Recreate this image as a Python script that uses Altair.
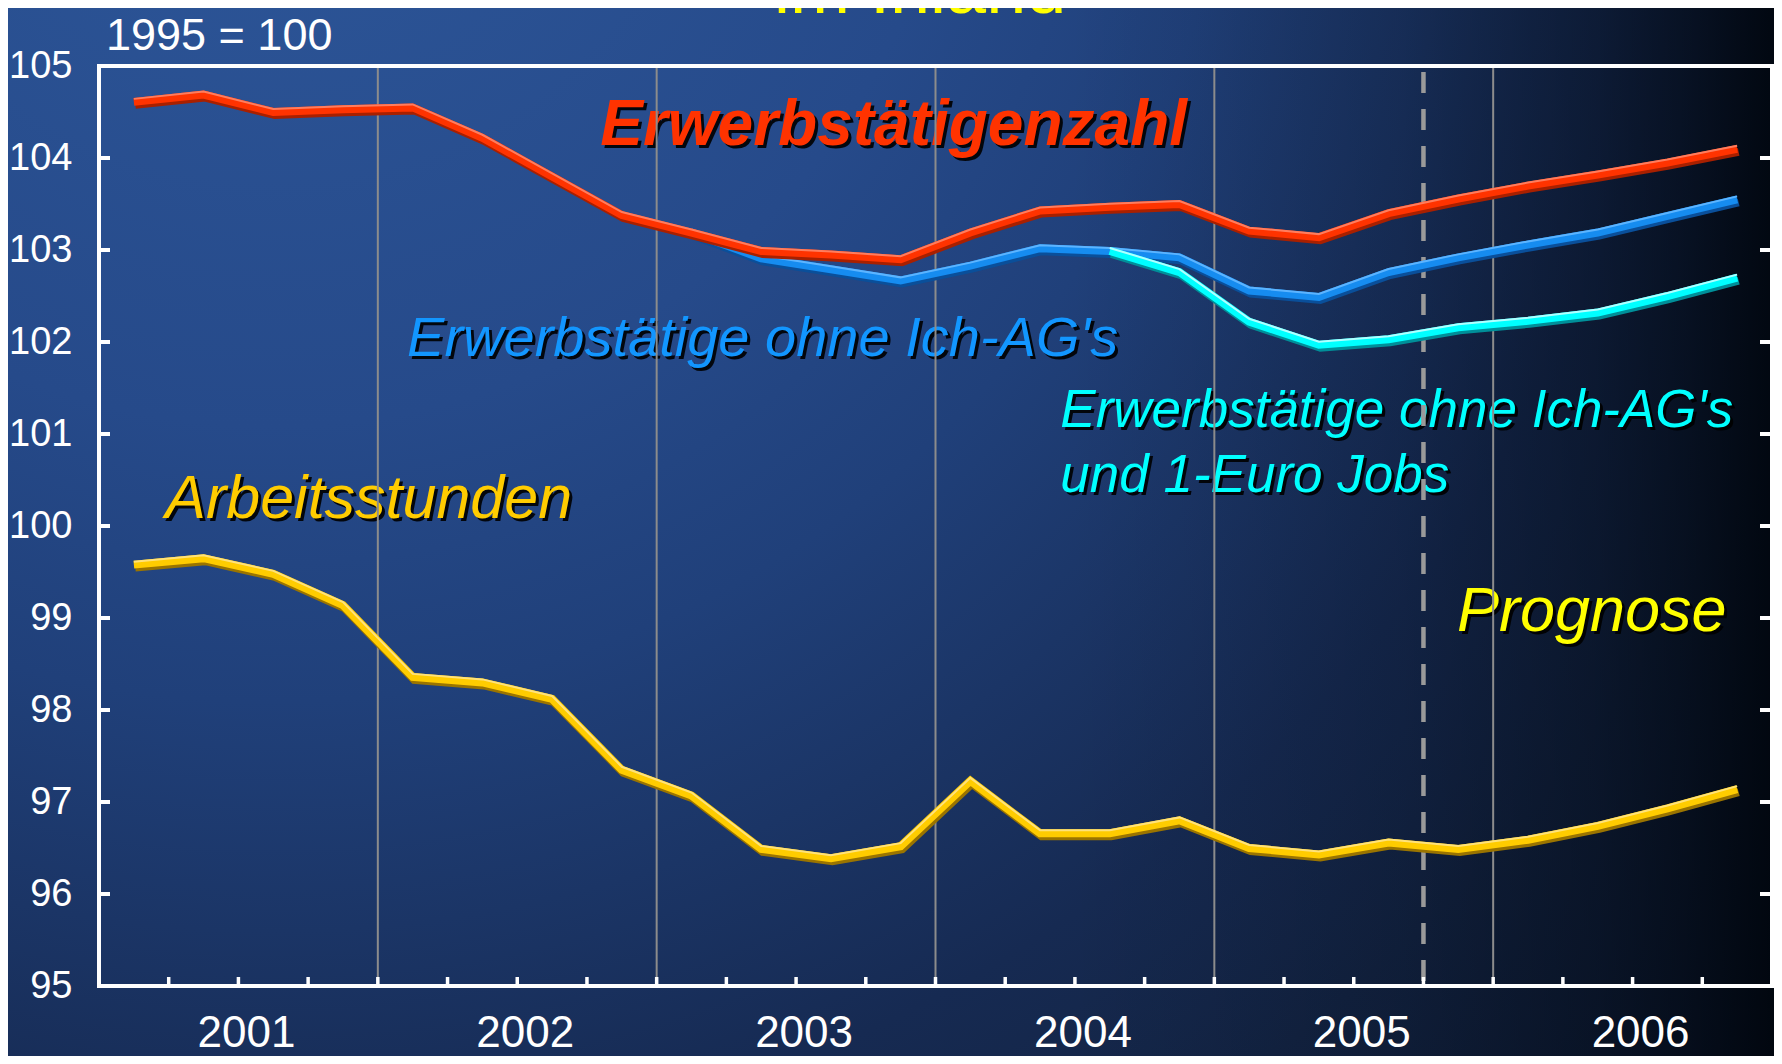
import altair as alt
import pandas as pd

# ---------------- data ----------------
years = [2001, 2002, 2003, 2004, 2005, 2006]
quarters = [f"{y} Q{q}" for y in years for q in range(1, 5)]

# Erwerbstätigenzahl (1995 = 100), 2001Q1 .. 2006Q4
erwerbstaetige = [104.61, 104.69, 104.50, 104.53, 104.55, 104.22, 103.80, 103.38,
                  103.19, 102.99, 102.95, 102.90, 103.19, 103.43, 103.47, 103.50,
                  103.21, 103.14, 103.40, 103.56, 103.70, 103.82, 103.95, 104.10]
# Erwerbstätige ohne Ich-AG's, from 2003Q1
ohne_ich_ag_start = 8
ohne_ich_ag = [103.19, 102.91, 102.79, 102.67, 102.83, 103.02, 102.99, 102.92,
               102.56, 102.49, 102.76, 102.92, 103.06, 103.19, 103.37, 103.55]
# Erwerbstätige ohne Ich-AG's und 1-Euro Jobs, from 2004Q3
ohne_1euro_start = 14
ohne_1euro = [102.99, 102.76, 102.22, 101.97, 102.03, 102.16, 102.23, 102.32,
              102.50, 102.70]
# Arbeitsstunden, 2001Q1 .. 2006Q4
arbeitsstunden = [99.58, 99.65, 99.48, 99.14, 98.36, 98.30, 98.12, 97.35,
                  97.07, 96.49, 96.39, 96.52, 97.23, 96.66, 96.66, 96.80,
                  96.50, 96.43, 96.56, 96.49, 96.59, 96.74, 96.93, 97.14]

y_ticks = list(range(95, 106))
quarter_bounds = list(range(1, 24))
year_bounds = [4, 8, 12, 16, 20]
prognose_bound = [19]

# ---------------- layout / style ----------------
W, H = 1673, 920
PAD = {"left": 91, "top": 58, "right": 2, "bottom": 70}
FONT = "Liberation Sans, Arial, sans-serif"

y_axis = alt.Axis(values=y_ticks, ticks=False, domain=False, grid=False,
                  labelFont=FONT, labelFontSize=38, labelColor="white",
                  labelPadding=27, title=None, labelOverlap=False, zindex=1)


def X(field="x"):
    return alt.X(f"{field}:Q", scale=alt.Scale(domain=[0, 24], nice=False, zero=False), axis=None)


def Y(field="v"):
    return alt.Y(f"{field}:Q", scale=alt.Scale(domain=[95, 105], nice=False, zero=False), axis=y_axis)


def series_df(values, start=0):
    return pd.DataFrame({"x": [start + i + 0.5 for i in range(len(values))], "v": values})


one = pd.DataFrame({"a": [0]})

radial = {
    "gradient": "radial", "x1": 0.15, "y1": 0.05, "r1": 0, "x2": 0.15, "y2": 0.05, "r2": 1.3,
    "stops": [
        {"offset": 0.0, "color": "#2e589b"},
        {"offset": 0.3, "color": "#264a8a"},
        {"offset": 0.42, "color": "#20407a"},
        {"offset": 0.52, "color": "#1b3566"},
        {"offset": 0.62, "color": "#162a52"},
        {"offset": 0.72, "color": "#132444"},
        {"offset": 0.85, "color": "#0f1d38"},
        {"offset": 1.0, "color": "#0c1830"},
    ],
}
right_dark = {
    "gradient": "linear", "x1": 0, "y1": 0, "x2": 1, "y2": 0,
    "stops": [
        {"offset": 0.0, "color": "rgba(0,5,12,0)"},
        {"offset": 0.6, "color": "rgba(0,5,12,0)"},
        {"offset": 0.67, "color": "rgba(0,5,12,0.05)"},
        {"offset": 0.79, "color": "rgba(0,5,12,0.2)"},
        {"offset": 0.9, "color": "rgba(0,5,12,0.45)"},
        {"offset": 0.95, "color": "rgba(0,5,12,0.65)"},
        {"offset": 1.0, "color": "rgba(0,5,12,0.92)"},
    ],
}

full = dict(x=alt.value(-PAD["left"]), x2=alt.value(W + PAD["right"]),
            y=alt.value(-PAD["top"]), y2=alt.value(H + PAD["bottom"]))
bg = alt.Chart(one).mark_rect(fill=radial).encode(**full)
bg2 = alt.Chart(one).mark_rect(fill=right_dark).encode(**full)

# y axis carrier (invisible points)
axis_layer = alt.Chart(pd.DataFrame({"v": y_ticks, "x": [0.0] * len(y_ticks)})).mark_point(
    opacity=0).encode(x=X(), y=Y())


def text_label(lines, x, v, color, size, weight="normal", line_height=None, align="left"):
    df = pd.DataFrame({"x": [x], "v": [v]})
    kw = dict(text=lines, font=FONT, fontSize=size, fontStyle="italic", fontWeight=weight,
              align=align, baseline="alphabetic")
    if line_height:
        kw["lineHeight"] = line_height
    base = alt.Chart(df).encode(x=X(), y=Y())
    return [base.mark_text(color="#000000", dx=3, dy=3, opacity=0.9, **kw),
            base.mark_text(color=color, **kw)]


labels = []
labels += text_label("Erwerbstätigenzahl", 7.19, 104.14, "#ff3300", 64, weight="bold")
labels += text_label("Erwerbstätige ohne Ich-AG's", 4.42, 101.85, "#1296ff", 56)
labels += text_label(["Erwerbstätige ohne Ich-AG's", "und 1-Euro Jobs"], 13.79, 101.08,
                     "#00ffff", 53, line_height=65)
labels += text_label("Arbeitsstunden", 0.95, 100.09, "#ffcc00", 61)
labels += text_label("Prognose", 19.48, 98.86, "#ffff00", 63)

base_label = alt.Chart(pd.DataFrame({"x": [0.10], "v": [105.175]})).mark_text(
    text="1995 = 100", font=FONT, fontSize=45, color="white",
    align="left", baseline="alphabetic").encode(x=X(), y=Y())
title = alt.Chart(pd.DataFrame({"x": [11.78], "v": [105.58]})).mark_text(
    text="im Inland", font=FONT, fontSize=72, color="#ffff00", align="center",
    baseline="alphabetic").encode(x=X(), y=Y())

year_df = pd.DataFrame({"x": [2 + 4 * i for i in range(len(years))],
                        "v": [94.34] * len(years), "t": [str(y) for y in years]})
year_labels = alt.Chart(year_df).mark_text(font=FONT, fontSize=44, color="white",
                                           align="center", baseline="alphabetic", dx=8).encode(
    x=X(), y=Y(), text="t:N")

grid = alt.Chart(pd.DataFrame({"x": year_bounds})).mark_rule(
    color="#8c8c8c", strokeWidth=2).encode(x=X(), y=alt.value(0), y2=alt.value(H))
dashed = alt.Chart(pd.DataFrame({"x": prognose_bound})).mark_rule(
    color="#9a9a9a", strokeWidth=4.5, strokeDash=[21, 16]).encode(
    x=X(), y=alt.value(6), y2=alt.value(H))

frame = alt.Chart(one).mark_rect(filled=False, stroke="white", strokeWidth=4).encode(
    x=alt.value(0), x2=alt.value(W), y=alt.value(0), y2=alt.value(H))
tick_df = pd.DataFrame({"v": y_ticks[1:-1]})
left_ticks = alt.Chart(tick_df).mark_rule(color="white", strokeWidth=4).encode(
    y=Y(), x=alt.value(0), x2=alt.value(11))
right_ticks = alt.Chart(tick_df).mark_rule(color="white", strokeWidth=4).encode(
    y=Y(), x=alt.value(W - 12), x2=alt.value(W))
bottom_ticks = alt.Chart(pd.DataFrame({"x": quarter_bounds})).mark_rule(
    color="white", strokeWidth=3.5).encode(x=X(), y=alt.value(H - 9), y2=alt.value(H))


def styled_line(df, main, shadow, light, width=8):
    base = alt.Chart(df).encode(x=X(), y=Y())
    return [
        base.mark_line(color=shadow, strokeWidth=width, xOffset=1.5, yOffset=3, strokeJoin="miter"),
        base.mark_line(color=main, strokeWidth=width, strokeJoin="miter"),
        base.mark_line(color=light, strokeWidth=2, yOffset=-3, strokeJoin="miter"),
    ]


lines = []
lines += styled_line(series_df(arbeitsstunden), "#ffcc00", "#9a7400", "#ffe27a")
lines += styled_line(series_df(ohne_ich_ag, ohne_ich_ag_start), "#168cf0", "#0a4f9a", "#5cb4ff")
lines += styled_line(series_df(ohne_1euro, ohne_1euro_start), "#00ffff", "#008f99", "#b0ffff")
lines += styled_line(series_df(erwerbstaetige), "#ff3300", "#a82000", "#ff7d5e")

chart = alt.layer(
    bg, bg2, axis_layer, *labels, base_label, title, year_labels,
    grid, dashed, frame, left_ticks, right_ticks, bottom_ticks, *lines,
).properties(
    width=W, height=H, padding=PAD, autosize="none", background="#1a3464",
).configure_view(strokeWidth=0)

chart.save("out.html", embed_options={"renderer": "svg", "actions": False})
